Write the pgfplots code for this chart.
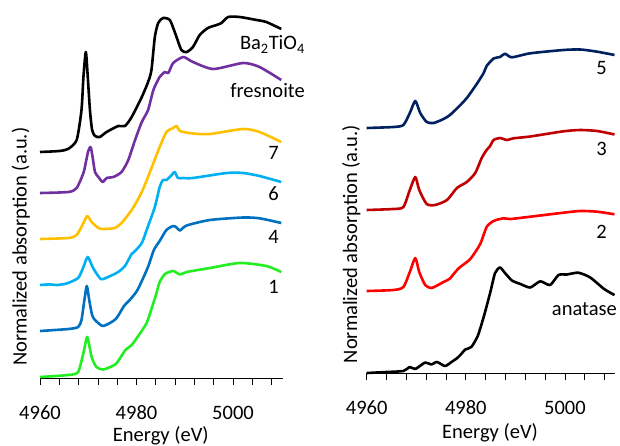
\documentclass[border=0pt]{standalone}
\usepackage{pgfplots}
\pgfplotsset{compat=1.18}
\usepackage{fontspec}
\setmainfont{Carlito}

\definecolor{cPurple}{HTML}{7030A0}
\definecolor{cYellow}{HTML}{FFC000}
\definecolor{cLBlue}{HTML}{00B0F0}
\definecolor{cBlue}{HTML}{0070C0}
\definecolor{cGreen}{HTML}{22EE22}
\definecolor{cNavy}{HTML}{002060}
\definecolor{cDRed}{HTML}{C00000}
\definecolor{cRed}{HTML}{FF0000}

\newcommand\lbl{\fontsize{20.5}{24}\selectfont}

\pgfplotsset{
  xanes/.style={
    scale only axis,
    axis x line*=bottom,
    axis y line=none,
    xmin=4960,
    xtick={4960,4980,5000},
    xticklabels={4960,4980,5000},
    minor xtick={4964,4968,4972,4976,4984,4988,4992,4996,5004,5008},
    tick align=outside,
    major tick length=7pt,
    minor tick length=7pt,
    every tick/.style={black, line width=0.8pt},
    x axis line style={black, line width=0.9pt},
    ticklabel style={font=\lbl},
    xticklabel style={inner sep=0pt, anchor=base, yshift=-34pt},
    clip=false,
    every axis plot/.append style={line width=2.6pt, line join=round, smooth, tension=0.4},
  },
}

\begin{document}
\begin{tikzpicture}[x=1pt,y=1pt]
\useasboundingbox (0,0) rectangle (620,445);

% left panel
\begin{axis}[xanes, at={(40pt,67pt)}, anchor=south west,
  width=242.7pt, height=373pt, xmax=5010.3, ymin=67, ymax=440]
\addplot[cGreen] coordinates {(4960,68) (4965.9,70) (4967.9,73) (4969.0,92) (4969.8,108) (4970.7,88) (4971.7,78) (4973.1,75.5) (4975.7,81) (4977.7,95) (4979.0,100) (4980.5,110) (4982.1,122) (4983.3,139) (4984.2,153) (4984.8,163) (4985.9,171) (4987.6,174) (4989.0,170.5) (4990.4,173) (4995.2,177) (5001.4,182) (5006.9,179) (5010,173)};
\addplot[cBlue] coordinates {(4960,114) (4965.9,116) (4967.9,118) (4968.6,125) (4969.2,145) (4969.7,159) (4970.2,145) (4970.8,130) (4971.4,125) (4973.1,119) (4975.7,126) (4977.4,139) (4978.6,145) (4980.2,155) (4982.3,177) (4983.6,195) (4984.8,204) (4986.2,215) (4987.6,219) (4988.3,217.5) (4989.0,214.5) (4990.4,219.5) (4995.2,225) (5002.1,227.5) (5005.5,226.7) (5010,222)};
\addplot[cLBlue] coordinates {(4960,160) (4962,160.6) (4963.5,160) (4965.5,161.5) (4967.9,167) (4969.0,178) (4969.9,188) (4971.0,177) (4972.6,166) (4974.1,168) (4976.2,173) (4977.6,179) (4979.0,191) (4979.7,194) (4981.1,202) (4982.1,215) (4983.8,238) (4984.8,258) (4985.5,265) (4986.2,265) (4987.3,270) (4987.9,273) (4988.6,267) (4989.7,267) (4991.7,267) (4998.7,272) (5002.1,272) (5005.5,269) (5010,263)};
\addplot[cYellow] coordinates {(4960,206) (4965.9,207) (4967.6,210) (4969.0,222) (4969.8,229) (4970.7,223) (4972.1,217) (4973.1,216) (4975.5,217) (4976.9,222) (4979.0,235) (4981.1,253) (4983.1,277) (4984.8,298) (4986.2,313) (4987.6,317) (4988.3,319) (4989.0,314) (4991.7,311.5) (4995.2,311) (5002.1,316) (5005.5,313) (5010,303)};
\addplot[cPurple] coordinates {(4960,252) (4965.9,253) (4967.6,257) (4969.0,272) (4969.6,285) (4970.0,294) (4970.5,298) (4970.9,288) (4971.4,273) (4972.1,268) (4973.0,263) (4973.8,267) (4975.2,268) (4976.9,273) (4978.3,285) (4979.7,305) (4981.1,323) (4982.4,335) (4983.5,355) (4984.8,368) (4985.9,373) (4986.6,372) (4987.6,382) (4989.7,388) (4991.7,383) (4995.9,376) (5002.1,382) (5005.5,378) (5010,365)};
\addplot[black] coordinates {(4960,293) (4964,294) (4965.8,296) (4967.6,305) (4968.6,335) (4969.0,368) (4969.5,393) (4969.9,368) (4970.35,335) (4970.8,315) (4971.4,309) (4972.4,308) (4973.8,313) (4976.2,319) (4977.6,319) (4979.0,328) (4981.1,348) (4982.4,363) (4983.1,375) (4983.8,408) (4984.5,422) (4985.5,427) (4986.9,425) (4988.0,412) (4989.3,395) (4990.4,393) (4991.7,398) (4993.1,410) (4994.8,417) (4996.6,420) (4997.6,422) (4999.0,428) (5001.4,428) (5004.9,425) (5006.9,423) (5010,416)};
\end{axis}

% right panel
\begin{axis}[xanes, at={(366.7pt,72pt)}, anchor=south west,
  width=248.3pt, height=368pt, xmax=5010.1, ymin=72, ymax=440]
\addplot[black] coordinates {(4960,72) (4964.0,73) (4967.4,74) (4968.7,78) (4969.8,76) (4971.8,82.5) (4973.0,80.5) (4974.2,83) (4975.8,79) (4977.2,83.3) (4978.2,86.7) (4978.9,90) (4979.9,95.5) (4981.1,98) (4982.4,109) (4983.6,128) (4984.9,152) (4985.9,172) (4986.9,177.5) (4987.9,172) (4989.3,164.5) (4991.0,161) (4993.0,157.5) (4995.0,163.7) (4997.0,160) (4998.7,170) (5000.4,170.5) (5002.7,172.3) (5005.1,167.5) (5007.9,156) (5010,150)};
\addplot[cRed] coordinates {(4960,154) (4965.4,155) (4967.4,158) (4968.7,173) (4969.8,187) (4970.6,173) (4971.8,160) (4973.1,157) (4975.5,163) (4976.8,166.5) (4978.5,176.5) (4980.9,186) (4982.9,201) (4984.2,218) (4985.6,224) (4987.6,226.7) (4989.0,226) (4993.0,228.3) (4999.7,232.3) (5003.1,234) (5006.5,233.3) (5010,230.7)};
\addplot[cDRed] coordinates {(4960,235) (4965.4,236) (4967.4,238) (4968.7,255) (4969.8,268) (4970.6,255) (4972.1,241) (4973.8,240) (4976.2,245) (4978.2,257) (4980.2,263) (4981.9,272) (4983.2,287) (4984.2,295) (4984.9,299) (4985.6,305) (4986.9,307) (4988.3,305) (4989.6,306.7) (4993.0,308.5) (4999.7,313.7) (5003.1,315) (5006.5,314) (5010,310.5)};
\addplot[cNavy] coordinates {(4960,317) (4965.4,318) (4967.4,320) (4968.7,332) (4969.8,344) (4970.8,332) (4972.1,323) (4973.5,322) (4975.5,326) (4976.8,330) (4978.5,338) (4980.2,347) (4982.2,361) (4983.6,372) (4984.2,379) (4985.6,386.5) (4986.9,388) (4987.9,391.3) (4989.3,387.7) (4993.0,391.7) (4999.7,395) (5003.1,395.5) (5006.5,393.3) (5010,390)};
\end{axis}

% series labels
\node[font=\lbl, anchor=base east, inner sep=0pt] at (305,395) {Ba\textsubscript{2}TiO\textsubscript{4}};
\node[font=\lbl, anchor=base east, inner sep=0pt] at (305,347) {fresnoite};
\node[font=\lbl, anchor=base east, inner sep=0pt] at (279,285) {7};
\node[font=\lbl, anchor=base east, inner sep=0pt] at (279,245) {6};
\node[font=\lbl, anchor=base east, inner sep=0pt] at (279,202) {4};
\node[font=\lbl, anchor=base east, inner sep=0pt] at (279,152) {1};
\node[font=\lbl, anchor=base east, inner sep=0pt] at (607,370) {5};
\node[font=\lbl, anchor=base east, inner sep=0pt] at (607,290) {3};
\node[font=\lbl, anchor=base east, inner sep=0pt] at (607,207) {2};
\node[font=\lbl, anchor=base east, inner sep=0pt] at (617,130) {anatase};

% axis titles
\node[font=\lbl, rotate=90, anchor=base, inner sep=0pt] at (26.7,198.3) {Normalized absorption (a.u.)};
\node[font=\lbl, rotate=90, anchor=base, inner sep=0pt] at (357,201) {Normalized absorption (a.u.)};
\node[font=\lbl, anchor=base, inner sep=0pt] at (160.8,3.7) {Energy (eV)};
\node[font=\lbl, anchor=base, inner sep=0pt] at (490,7) {Energy (eV)};
\end{tikzpicture}
\end{document}
